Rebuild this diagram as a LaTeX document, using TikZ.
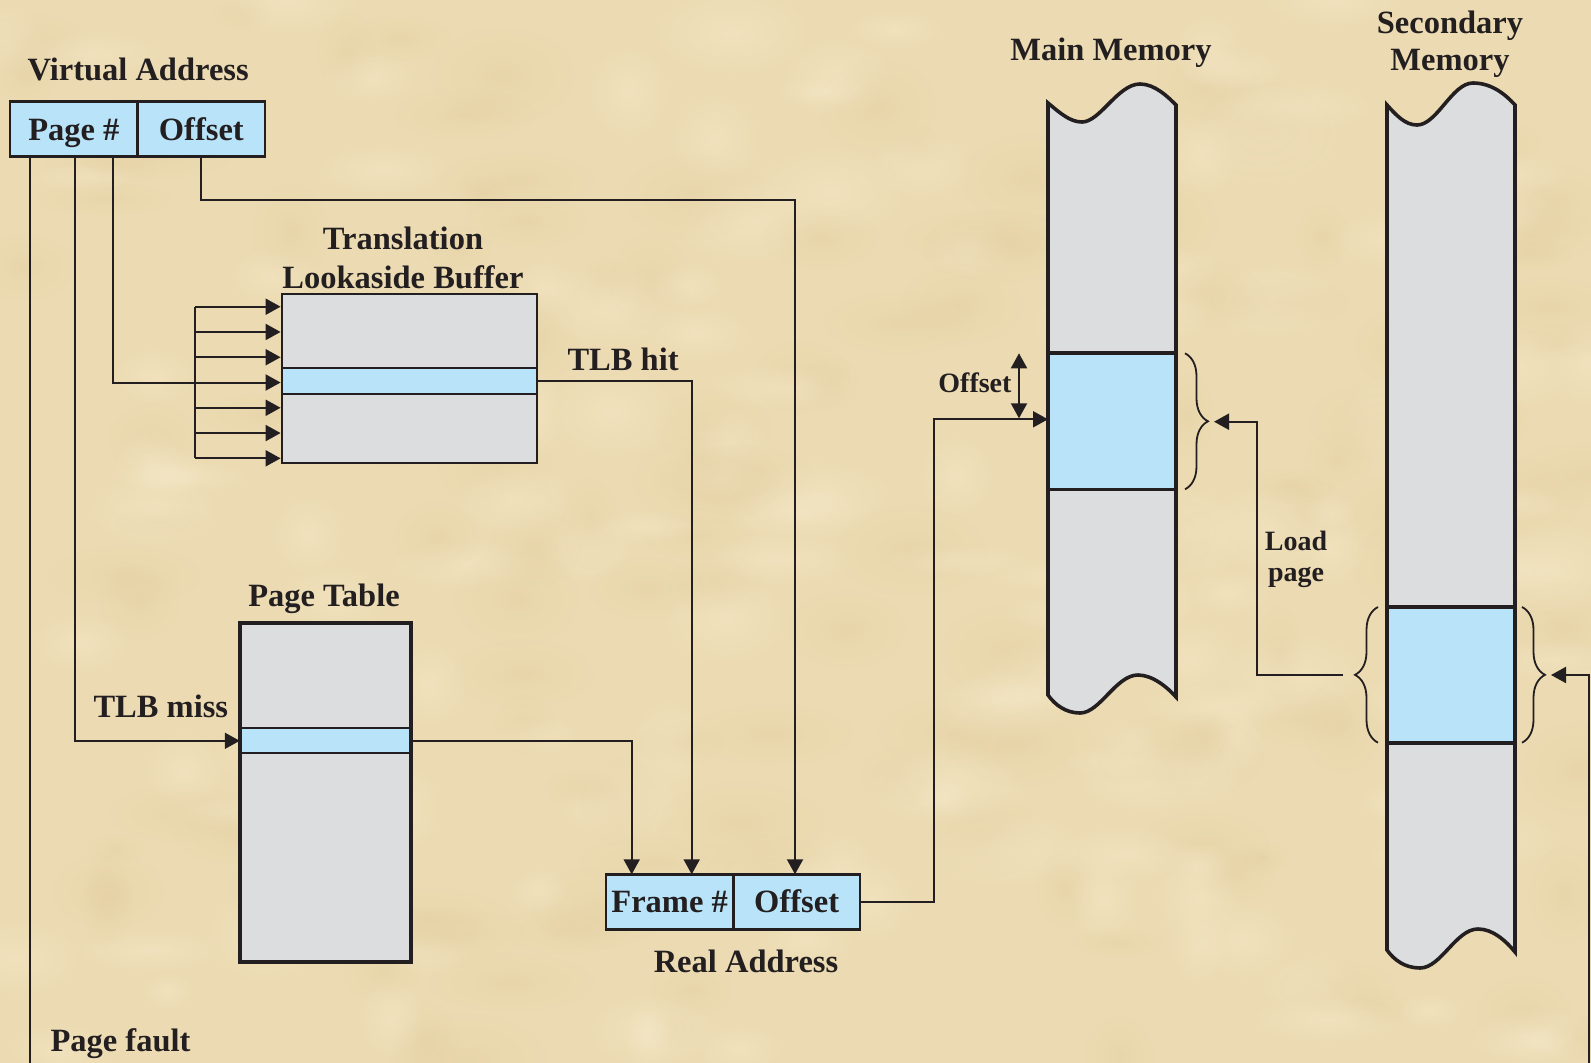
\documentclass[tikz,border=0pt]{standalone}
\usepackage{fontspec}
\setmainfont{Liberation Serif}
\usetikzlibrary{arrows.meta,decorations.pathreplacing,calc,fadings}

\definecolor{parch}{RGB}{236,219,178}
\definecolor{parchlight}{RGB}{247,236,206}
\definecolor{parchdark}{RGB}{222,198,150}
\definecolor{cellgray}{RGB}{220,221,223}
\definecolor{cellblue}{RGB}{184,227,248}
\definecolor{ink}{RGB}{35,31,32}

\tikzfading[name=softblob, inner color=transparent!0, outer color=transparent!100]

\tikzset{
  big/.style={font=\bfseries\fontsize{32.5}{39}\selectfont, text=ink},
  small/.style={font=\bfseries\fontsize{28}{31}\selectfont, text=ink},
  cell/.style={draw=ink, line width=2.5pt, fill=cellblue, inner sep=0pt,
    minimum height=55pt, text height=21.6pt, text depth=0pt, big},
  conn/.style={draw=ink, line width=2pt},
  tip/.tip={Triangle[length=15pt,width=16pt]},
  arr/.style={conn, -tip},
  darr/.style={conn, tip-tip},
  memline/.style={draw=ink, line width=3.6pt},
  curly/.style={draw=ink, line width=1.8pt, decorate,
    decoration={brace, amplitude=23pt}},
}

\begin{document}
\begin{tikzpicture}[x=1pt,y=-1pt]
  \useasboundingbox (0,0) rectangle (1591,1063);
  % page background with a soft mottled paper grain
  \begin{scope}
    \clip (0,0) rectangle (1591,1063);
    \fill[parch] (0,0) rectangle (1591,1063);
    \pgfmathsetseed{4711}
    \foreach \i in {1,...,260} {
      \pgfmathsetmacro\xx{rnd*1591}
      \pgfmathsetmacro\yy{rnd*1063}
      \pgfmathsetmacro\ra{25+rnd*60}
      \pgfmathsetmacro\rb{15+rnd*35}
      \ifodd\i
        \fill[parchlight, path fading=softblob, opacity=0.4]
          (\xx,\yy) ellipse ({\ra} and {\rb});
      \else
        \fill[parchdark, path fading=softblob, opacity=0.25]
          (\xx,\yy) ellipse ({\ra} and {\rb});
      \fi
    }
  \end{scope}

  % ---------- virtual address ----------
  \node[big, anchor=base west] (vatitle) at (24,80) {Virtual Address};
  \node[cell, minimum width=127.7pt] (vpage) at (73.85,129.2) {Page \#};
  \node[cell, minimum width=127.3pt] (voff) at (201.35,129.2) {Offset};
  \coordinate (vpf)   at (29.5,156.7);
  \coordinate (vmiss) at (75,156.7);
  \coordinate (vhit)  at (113,156.7);
  \coordinate (pfend) at (29.5,1063);

  % ---------- translation lookaside buffer ----------
  \node[big, anchor=base] (tlbt1) at (403,249.5) {Translation};
  \node[big, anchor=base] (tlbt2) at (403,288.5) {Lookaside Buffer};
  \node[draw=ink, line width=2.2pt, fill=cellgray, inner sep=0pt,
        minimum width=255pt, minimum height=169pt] (tlb) at (409.2,378.8) {};
  \node[draw=ink, line width=2.2pt, fill=cellblue, inner sep=0pt,
        minimum width=255pt, minimum height=26pt] (tlbrow) at (409.2,381.3) {};
  \coordinate (tlbbar1) at (195,306.7);
  \coordinate (tlbbar2) at (195,458.3);
  \draw[conn] (tlbbar1) -- (tlbbar2);
  \foreach \k in {0,...,6} {
    \coordinate (tin\k) at (195,306.7+25.27*\k);
    \draw[arr] (tin\k) -- (tin\k -| tlb.west);
  }
  \node[big, anchor=base west] (hitlbl) at (564,370) {TLB hit};

  % ---------- page table ----------
  \node[big, anchor=base] (pttitle) at (324,606) {Page Table};
  \node[draw=ink, line width=3.6pt, fill=cellgray, inner sep=0pt,
        minimum width=170.7pt, minimum height=339pt] (pt) at (325.35,792.2) {};
  \node[draw=ink, line width=2.2pt, fill=cellblue, inner sep=0pt,
        minimum width=169pt, minimum height=25pt] (ptrow) at (325.35,740.8) {};
  \node[big, anchor=base west] (misslbl) at (90,717.3) {TLB miss};

  % ---------- real address ----------
  \node[cell, minimum width=127.3pt] (rframe) at (669.65,901.8) {Frame \#};
  \node[cell, minimum width=126.7pt] (roff) at (796.65,901.8) {Offset};
  \node[big, anchor=base] (ratitle) at (746,972) {Real Address};
  \coordinate (rfa) at (631.7,874.3);
  \coordinate (rfb) at (691.7,874.3);
  \coordinate (rfc) at (795,874.3);

  % ---------- main memory ----------
  \node[big, anchor=base] (mmtitle) at (1111,60) {Main Memory};
  \path[fill=cellgray]
    (1048,103) .. controls (1060,113) and (1070,122) .. (1082,122)
    .. controls (1100,122) and (1118,84) .. (1140,84)
    .. controls (1155,84) and (1168,97) .. (1176,105)
    -- (1176,697)
    .. controls (1168,688) and (1153,675) .. (1138,675)
    .. controls (1116,675) and (1100,713) .. (1080,713)
    .. controls (1066,713) and (1055,705) .. (1048,695) -- cycle;
  \node[fill=cellblue, inner sep=0pt, minimum width=128pt,
        minimum height=136pt] (mmblk) at (1112,421.3) {};
  \draw[memline] (mmblk.north west) -- (mmblk.north east);
  \draw[memline] (mmblk.south west) -- (mmblk.south east);
  \draw[memline]
    (1048,103) .. controls (1060,113) and (1070,122) .. (1082,122)
    .. controls (1100,122) and (1118,84) .. (1140,84)
    .. controls (1155,84) and (1168,97) .. (1176,105)
    -- (1176,697)
    .. controls (1168,688) and (1153,675) .. (1138,675)
    .. controls (1116,675) and (1100,713) .. (1080,713)
    .. controls (1066,713) and (1055,705) .. (1048,695) -- cycle;
  \coordinate (mmin) at (1048,419.3);
  \coordinate (offa) at (1019,353.3);
  \coordinate (offb) at (1019,418.3);
  \draw[darr] (offa) -- (offb);
  \node[small, anchor=base east] (offlbl) at (1015,392.5) {Offset};
  \draw[curly] (1185,353.3) -- (1185,489.3);
  \coordinate (mmtip) at (1214,421.7);

  % ---------- secondary memory ----------
  \node[big, anchor=base] (smt1) at (1450,33.5) {Secondary};
  \node[big, anchor=base] (smt2) at (1450,70.5) {Memory};
  \path[fill=cellgray]
    (1387,105) .. controls (1396,115) and (1405,125) .. (1417,125)
    .. controls (1437,125) and (1452,83) .. (1473,83)
    .. controls (1492,83) and (1506,95) .. (1515,105)
    -- (1515,952)
    .. controls (1506,941) and (1493,929) .. (1478,929)
    .. controls (1456,929) and (1441,968) .. (1420,968)
    .. controls (1405,968) and (1394,960) .. (1387,950) -- cycle;
  \node[fill=cellblue, inner sep=0pt, minimum width=128pt,
        minimum height=135.7pt] (smblk) at (1451,674.85) {};
  \draw[memline] (smblk.north west) -- (smblk.north east);
  \draw[memline] (smblk.south west) -- (smblk.south east);
  \draw[memline]
    (1387,105) .. controls (1396,115) and (1405,125) .. (1417,125)
    .. controls (1437,125) and (1452,83) .. (1473,83)
    .. controls (1492,83) and (1506,95) .. (1515,105)
    -- (1515,952)
    .. controls (1506,941) and (1493,929) .. (1478,929)
    .. controls (1456,929) and (1441,968) .. (1420,968)
    .. controls (1405,968) and (1394,960) .. (1387,950) -- cycle;
  \draw[curly] (1378,742.7) -- (1378,607);
  \draw[curly] (1522,607) -- (1522,742.7);
  \coordinate (ldstart) at (1343,675);
  \coordinate (smtip) at (1551,675);
  \coordinate (rstart) at (1588.5,1063);
  \node[small, anchor=base] (ldl1) at (1296,550.5) {Load};
  \node[small, anchor=base] (ldl2) at (1296,581.5) {page};

  % ---------- connectors ----------
  \draw[conn] (vpf) -- (pfend);
  \node[big, anchor=base west] (pflbl) at (47,1051) {Page fault};
  \draw[arr] (vmiss) |- (ptrow.west);
  \draw[conn] (vhit) |- (tin3);
  \draw[arr] (voff.south) -- ++(0,42.3) -| (rfc);
  \draw[arr] (tlbrow.east) -| (rfb);
  \draw[arr] (ptrow.east) -| (rfa);
  \draw[arr] (roff.east) -- ++(72.5,0) |- (mmin);
  \draw[arr] (ldstart) -- (1256.7,675) |- (mmtip);
  \draw[arr] (rstart) |- (smtip);
\end{tikzpicture}
\end{document}
